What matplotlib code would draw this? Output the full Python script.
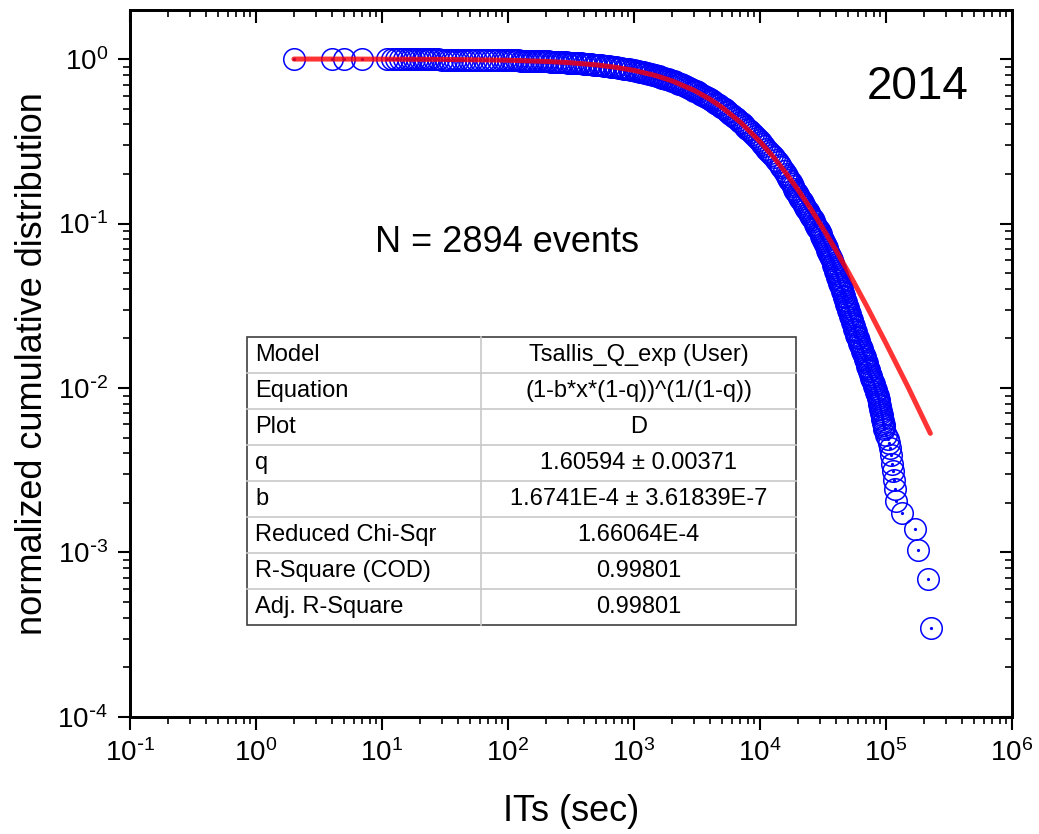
import math

import matplotlib
matplotlib.use("Agg")
import matplotlib.pyplot as plt
from matplotlib.ticker import FixedLocator, FuncFormatter, NullFormatter
from matplotlib.patches import Rectangle

plt.rcParams['font.family'] = ['Liberation Sans', 'DejaVu Sans']

# inter-event times (sec) and normalized cumulative distribution
it_sec = [2, 4, 5, 7, 11, 12, 13, 14, 15, 16, 17, 18, 19, 20, 21, 22, 23, 24,
          26, 28, 30, 32, 34, 36, 38, 40, 43, 46, 49, 52, 56, 60, 64, 68, 73, 78, 84, 90, 95,
          100, 105, 110, 115, 120, 126, 132, 138, 145, 151, 158, 166, 174, 182, 191, 200,
          209, 219, 229, 240, 251, 263, 275, 288, 302, 316, 331, 347, 363, 380, 398, 417,
          437, 457, 479, 501, 525, 549, 575, 602, 631, 661, 692, 725, 759, 795, 832, 871,
          912, 955,
          1000, 1035, 1072, 1109, 1148, 1188, 1230, 1273, 1318, 1365, 1413, 1462, 1514,
          1567, 1622, 1679, 1738, 1799, 1862, 1928, 1995, 2065, 2138, 2213, 2291, 2371,
          2455, 2541, 2630, 2723, 2818, 2917, 3020, 3126, 3236, 3350, 3467, 3589, 3715,
          3846, 3981, 4121, 4266, 4416, 4571, 4732, 4898, 5070, 5248, 5433, 5623, 5821,
          6026, 6237, 6457, 6683, 6918, 7161, 7413, 7674, 7943, 8222, 8511, 8810, 9120,
          9441, 9772, 10120, 10470, 10840, 11220, 11610, 12020, 12440, 12880, 13330,
          13800, 14290, 14790, 15390,
          16000, 16350, 16710, 17090, 17470, 17870, 18270, 18680, 19100, 19540,
          19980, 20430, 20890, 21360, 21830, 22340, 22860, 23370, 23880, 24440,
          25000, 25560, 26120, 26730, 27350, 27960, 28580, 29180, 29790, 30240,
          30690, 31190, 31700, 32210, 32730, 33270, 33810, 34320, 34830, 35400,
          35970, 36560, 37150, 37710, 38280, 38770, 39260, 39720, 40180, 40690,
          41210, 41740, 42270, 42760, 43250, 43800, 44360, 44930, 45500, 46080,
          46670, 47260, 47860, 48420, 48980, 49600, 50230, 50870, 51520, 52180,
          52840, 53460, 54080, 54770, 55460, 56170, 56890, 57610, 58340, 59090,
          59840, 60680, 61520, 62310, 63100, 63980, 64860, 65770, 66680, 67530,
          68390, 69350, 70310, 71210, 72110, 73030, 73960, 74910, 75860, 76740,
          77620, 78620, 79620, 80640, 81660, 82700, 83750, 84820, 85900, 86700,
          87500, 88110, 88720, 89440, 90160, 90790, 91410, 92150, 92900, 93650,
          94410, 95060, 95720, 96490, 97270,
          100500, 103000, 106000, 108000, 110000, 112000, 114000, 116000, 118000,
          119000, 133000, 171000, 180000, 215000, 228000]
ccdf = [1.0, 0.9997, 0.9993, 0.999, 0.9986, 0.9983, 0.9979, 0.9976, 0.9972, 0.9969,
        0.9965, 0.9962, 0.9959, 0.9955, 0.9952, 0.9948, 0.9945, 0.9941,
        0.9938, 0.9934, 0.9931, 0.9927, 0.9924, 0.9917, 0.9910, 0.9903,
        0.9896, 0.9889, 0.9882, 0.9875, 0.9868, 0.9861, 0.9858, 0.9854, 0.9851, 0.9847,
        0.9844, 0.9841, 0.9838,
        0.9835, 0.9827, 0.9818, 0.9810, 0.9802, 0.9793, 0.9783, 0.9773, 0.9762, 0.9752,
        0.9741, 0.9728, 0.9715, 0.9702, 0.9688, 0.9674, 0.9660, 0.9644, 0.9628, 0.9611,
        0.9594, 0.9575, 0.9556, 0.9535, 0.9514, 0.9492, 0.9469, 0.9445, 0.9421, 0.9395,
        0.9368, 0.9339, 0.9309, 0.9278, 0.9247, 0.9213, 0.9179, 0.9143, 0.9107, 0.9067,
        0.9027, 0.8984, 0.8941, 0.8895, 0.8848, 0.8799, 0.8749, 0.8696, 0.8642, 0.8587,
        0.853, 0.848, 0.843, 0.839, 0.834, 0.829, 0.824, 0.819, 0.813, 0.808, 0.802,
        0.796, 0.790, 0.784, 0.778, 0.772, 0.765, 0.759, 0.752, 0.745, 0.738, 0.731,
        0.723, 0.716, 0.708, 0.701, 0.693, 0.685, 0.677, 0.669, 0.660, 0.652, 0.643,
        0.635, 0.626, 0.617, 0.608, 0.599, 0.590, 0.581, 0.571, 0.562, 0.552, 0.543,
        0.533, 0.524, 0.514, 0.504, 0.494, 0.485, 0.475, 0.465, 0.455, 0.445, 0.435,
        0.426, 0.416, 0.406, 0.396, 0.387, 0.377, 0.368, 0.358, 0.349, 0.339, 0.330,
        0.321, 0.312, 0.303, 0.294, 0.285, 0.277, 0.268, 0.260, 0.252, 0.244, 0.236,
        0.228, 0.220, 0.2095,
        0.1995, 0.1939, 0.1884, 0.1830, 0.1778, 0.1728, 0.1679, 0.1631, 0.1585, 0.1540,
        0.1496, 0.1454, 0.1413, 0.1373, 0.1334, 0.1296, 0.1259, 0.1223, 0.1189, 0.1155,
        0.1122, 0.1090, 0.1059, 0.1029, 0.1000, 0.0972, 0.0944, 0.0917, 0.0891, 0.0866,
        0.0841, 0.0817, 0.0794, 0.0772, 0.0750, 0.0729, 0.0708, 0.0688, 0.0668, 0.0649,
        0.0631, 0.0613, 0.0596, 0.0579, 0.0562, 0.0546, 0.0531, 0.0516, 0.0501, 0.0487,
        0.0473, 0.0460, 0.0447, 0.0434, 0.0422, 0.0410, 0.0398, 0.0387, 0.0376, 0.0365,
        0.0355, 0.0345, 0.0335, 0.0325, 0.0316, 0.0307, 0.0299, 0.0290, 0.0282, 0.0274,
        0.0266, 0.0259, 0.0251, 0.0244, 0.0237, 0.0230, 0.0224, 0.0218, 0.0211, 0.0205,
        0.0200, 0.0194, 0.0188, 0.0183, 0.0178, 0.0173, 0.0168, 0.0163, 0.0158, 0.0154,
        0.0150, 0.0145, 0.0141, 0.0137, 0.0133, 0.0129, 0.0126, 0.0122, 0.0119, 0.0115,
        0.0112, 0.0109, 0.0106, 0.0103, 0.0100, 0.0097, 0.00944, 0.00917, 0.00891, 0.00866,
        0.00841, 0.00817, 0.00794, 0.00772, 0.00750, 0.00729, 0.00708, 0.00688, 0.00668,
        0.00649, 0.00631, 0.00613, 0.00596, 0.00579, 0.00562,
        0.0052, 0.0049, 0.0046, 0.0043, 0.0039, 0.00346, 0.00311, 0.00276, 0.00242,
        0.00207, 0.00173, 0.00138, 0.00104, 0.00069, 0.000346]

# Tsallis q-exponential fit curve (red line)
fit_x = [2, 5, 10, 30, 100, 200, 300, 500, 700, 1000, 1500, 2000, 3000, 4000, 5000,
         7000, 10000, 13000, 16000, 20000, 25000, 30000, 40000, 50000, 70000, 100000,
         150000, 225000]
fit_y = [0.9997, 0.9992, 0.9983, 0.995, 0.9835, 0.9674, 0.9517, 0.9216, 0.893, 0.853,
         0.7915, 0.737, 0.645, 0.570, 0.508, 0.4125, 0.3148, 0.2496, 0.2036, 0.1606,
         0.1244, 0.0997, 0.0689, 0.0510, 0.0317, 0.0187, 0.0101, 0.0053]

fit_labels = ['Model', 'Equation', 'Plot', 'q', 'b', 'Reduced Chi-Sqr',
              'R-Square (COD)', 'Adj. R-Square']
fit_values = ['Tsallis_Q_exp (User)', '(1-b*x*(1-q))^(1/(1-q))', 'D',
              '1.60594 ± 0.00371', '1.6741E-4 ± 3.61839E-7', '1.66064E-4',
              '0.99801', '0.99801']

x_decades = [-1, 0, 1, 2, 3, 4, 5, 6]
y_decades = [-4, -3, -2, -1, 0]


def decade_label(v, pos):
    # Origin-style 10^n, with a short hyphen for negative powers
    e = int(round(math.log10(v)))
    if e < 0:
        return r'$\mathregular{10^{\text{-}%d}}$' % (-e)
    return r'$\mathregular{10^{%d}}$' % e


def minor_ticks(decades):
    return [m * 10.0 ** d for d in decades[:-1] for m in range(2, 10)]


fig = plt.figure(figsize=(10.39, 8.34), dpi=100)
ax = fig.add_axes([0.1251, 0.1403, 0.8489, 0.8483])

ax.plot(it_sec, ccdf, ls='none', marker='o', ms=15.5, mfc='none', mec='blue',
        mew=1.1, zorder=2)
ax.plot(it_sec, ccdf, ls='none', marker='o', ms=1.3, color='blue', zorder=2)
ax.plot(fit_x, fit_y, color='red', lw=3.6, alpha=0.8, solid_capstyle='round', zorder=3)

ax.set_xscale('log')
ax.set_yscale('log')
ax.set_xlim(0.1, 1e6)
ax.set_ylim(1e-4, 2)

xmaj = [10.0 ** d for d in x_decades]
ymaj = [10.0 ** d for d in y_decades]
xmin = minor_ticks(x_decades)
ymin = minor_ticks(y_decades)

ax.xaxis.set_major_locator(FixedLocator(xmaj))
ax.xaxis.set_minor_locator(FixedLocator(xmin))
ax.yaxis.set_major_locator(FixedLocator(ymaj))
ax.yaxis.set_minor_locator(FixedLocator(ymin))
ax.xaxis.set_major_formatter(FuncFormatter(decade_label))
ax.yaxis.set_major_formatter(FuncFormatter(decade_label))
ax.xaxis.set_minor_formatter(NullFormatter())
ax.yaxis.set_minor_formatter(NullFormatter())

ax.tick_params(which='major', direction='out', length=9, width=1.5, labelsize=20, pad=7)
ax.tick_params(which='minor', direction='out', length=5, width=1.2)
for s in ax.spines.values():
    s.set_linewidth(1.8)

# inward ticks on top and right
axt = ax.twiny()
axt.set_xscale('log')
axt.set_xlim(ax.get_xlim())
axt.xaxis.set_major_locator(FixedLocator(xmaj))
axt.xaxis.set_minor_locator(FixedLocator(xmin))
axt.xaxis.set_major_formatter(NullFormatter())
axt.xaxis.set_minor_formatter(NullFormatter())
axt.tick_params(which='major', direction='in', length=9, width=1.5, labeltop=False)
axt.tick_params(which='minor', direction='in', length=5, width=1.2)
axr = ax.twinx()
axr.set_yscale('log')
axr.set_ylim(ax.get_ylim())
axr.yaxis.set_major_locator(FixedLocator(ymaj))
axr.yaxis.set_minor_locator(FixedLocator(ymin))
axr.yaxis.set_major_formatter(NullFormatter())
axr.yaxis.set_minor_formatter(NullFormatter())
axr.tick_params(which='major', direction='in', length=9, width=1.5, labelright=False)
axr.tick_params(which='minor', direction='in', length=5, width=1.2)
for t in (axt, axr):
    for s in t.spines.values():
        s.set_linewidth(1.8)

ax.set_xlabel('ITs (sec)', fontsize=26, va='center')
ax.xaxis.set_label_coords(0.5, -0.133)
ax.set_ylabel('normalized cumulative distribution', fontsize=26, va='center')
ax.yaxis.set_label_coords(-0.111, 0.5)

ax.text(0.893, 0.89, '2014', transform=ax.transAxes, fontsize=33,
        ha='center', va='center')
ax.text(0.4274, 0.670, 'N = 2894 events', transform=ax.transAxes, fontsize=26,
        ha='center', va='center')

# fit parameter table
x0, x1, xm = 0.1327, 0.7551, 0.398
ytop, ybot = 0.5371, 0.130
rh = (ytop - ybot) / len(fit_labels)
ax.add_patch(Rectangle((x0, ybot), x1 - x0, ytop - ybot, transform=ax.transAxes,
                       facecolor='white', edgecolor='#404040', lw=1.2, zorder=5))
for i in range(1, len(fit_labels)):
    yy = ytop - i * rh
    ax.plot([x0, x1], [yy, yy], transform=ax.transAxes, color='#c8c8c8', lw=1.2, zorder=6)
ax.plot([xm, xm], [ybot, ytop], transform=ax.transAxes, color='#c8c8c8', lw=1.2, zorder=6)
for i, (lab, val) in enumerate(zip(fit_labels, fit_values)):
    yc = ytop - (i + 0.5) * rh
    ax.text(0.1417, yc, lab, transform=ax.transAxes, fontsize=17,
            ha='left', va='center', zorder=7)
    ax.text((xm + x1) / 2, yc, val, transform=ax.transAxes, fontsize=17,
            ha='center', va='center', zorder=7)

fig.savefig('out.png', dpi=100)
